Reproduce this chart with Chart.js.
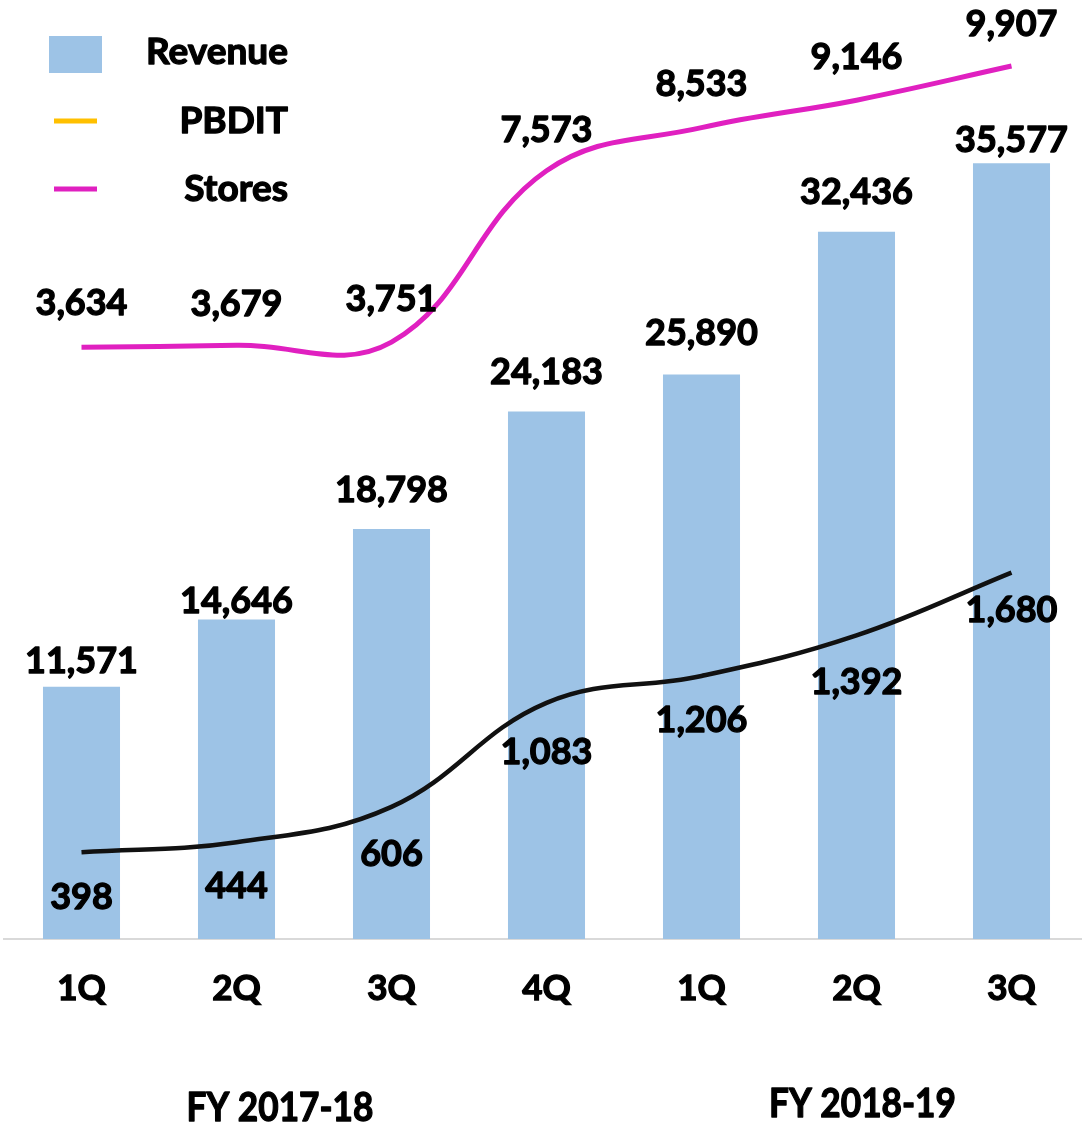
<!DOCTYPE html>
<html>
<head>
<meta charset="utf-8">
<script src="https://cdn.jsdelivr.net/npm/chart.js@4.4.1/dist/chart.umd.min.js"></script>
<style>
  html, body { margin: 0; padding: 0; overflow: hidden; background: #fff; }
</style>
</head>
<body>
<canvas id="chart" width="1092" height="1124"></canvas>
<script>
const quarters = ["1Q", "2Q", "3Q", "4Q", "1Q", "2Q", "3Q"];
const revenue = [11571, 14646, 18798, 24183, 25890, 32436, 35577];
const pbdit = [398, 444, 606, 1083, 1206, 1392, 1680];
const stores = [3634, 3679, 3751, 7573, 8533, 9146, 9907];
const fiscalYears = ["FY 2017-18", "FY 2018-19"];

const FONT = "Lato, 'Open Sans', sans-serif";
const W = "bold";
const fmt = (v) => v.toLocaleString("en-US");

// bold text with a thin stroke to look heavier
const heavyText = (ctx, txt, x, y) => {
  ctx.lineWidth = 1.3;
  ctx.strokeStyle = "#000";
  ctx.lineJoin = "round";
  ctx.strokeText(txt, x, y);
  ctx.fillText(txt, x, y);
};

// value labels next to each point / bar (vertical nudge per point)
const valueLabels = {
  id: "valueLabels",
  afterDatasetsDraw(chart) {
    const ctx = chart.ctx;
    ctx.save();
    ctx.font = `${W} 36px ${FONT}`;
    ctx.fillStyle = "#000";
    ctx.textAlign = "center";
    ctx.textBaseline = "middle";
    chart.data.datasets.forEach((ds, i) => {
      const meta = chart.getDatasetMeta(i);
      meta.data.forEach((el, j) => {
        heavyText(ctx, fmt(ds.data[j]), el.x, el.y + ds.labelOffsets[j]);
      });
    });
    ctx.restore();
  },
};

// legend in the top-left corner, text right aligned
const sideLegend = {
  id: "sideLegend",
  afterDraw(chart) {
    const ctx = chart.ctx;
    ctx.save();
    ctx.font = `${W} 37px ${FONT}`;
    ctx.textAlign = "right";
    ctx.textBaseline = "middle";
    const rows = [52, 121, 189];
    chart.data.datasets.forEach((ds, i) => {
      const y = rows[i];
      if (ds.type === "bar") {
        ctx.fillStyle = ds.backgroundColor;
        ctx.fillRect(49, y - 16, 53, 37);
      } else {
        ctx.strokeStyle = ds.legendColor || ds.borderColor;
        ctx.lineWidth = 5;
        ctx.beginPath();
        ctx.moveTo(54, y);
        ctx.lineTo(97, y);
        ctx.stroke();
      }
      ctx.fillStyle = "#000";
      heavyText(ctx, ds.label, 288, y);
    });
    ctx.restore();
  },
};

// fiscal year captions under the quarter ticks (slightly condensed)
const yearCaptions = {
  id: "yearCaptions",
  afterDraw(chart) {
    const ctx = chart.ctx;
    const x = chart.scales.x;
    const spots = [
      { from: 0, to: 3, y: 1108, shift: -34 },
      { from: 4, to: 6, y: 1104, shift: 6 },
    ];
    ctx.save();
    ctx.font = `${W} 40px ${FONT}`;
    ctx.fillStyle = "#000";
    ctx.textAlign = "center";
    ctx.textBaseline = "middle";
    fiscalYears.forEach((txt, i) => {
      const s = spots[i];
      const cx = (x.getPixelForValue(s.from) + x.getPixelForValue(s.to)) / 2 + s.shift;
      ctx.save();
      ctx.translate(cx, s.y);
      ctx.scale(0.88, 1);
      heavyText(ctx, txt, 0, 0);
      ctx.restore();
    });
    ctx.restore();
  },
};

new Chart(document.getElementById("chart"), {
  data: {
    labels: quarters,
    datasets: [
      {
        type: "bar",
        label: "Revenue",
        data: revenue,
        backgroundColor: "#9DC3E6",
        yAxisID: "yRev",
        order: 3,
        labelOffsets: [-25, -18, -39, -39, -41, -39, -23],
        barPercentage: 0.497,
        categoryPercentage: 1,
      },
      {
        type: "line",
        label: "PBDIT",
        data: pbdit,
        borderColor: "#111111",
        legendColor: "#FFC000",
        borderWidth: 4.5,
        pointRadius: 0,
        tension: 0.4,
        yAxisID: "yPbdit",
        order: 2,
        labelOffsets: [45, 44, 48, 50, 44, 47, 38],
      },
      {
        type: "line",
        label: "Stores",
        data: stores,
        borderColor: "#E020C0",
        borderWidth: 5,
        pointRadius: 0,
        tension: 0.4,
        yAxisID: "yStores",
        order: 1,
        labelOffsets: [-44, -41, -43, -40, -43, -43, -42],
      },
    ],
  },
  options: {
    responsive: false,
    animation: false,
    layout: { padding: { top: 30, left: 4, right: 3, bottom: 85 } },
    plugins: {
      legend: { display: false },
      tooltip: { enabled: false },
    },
    scales: {
      x: {
        grid: { display: false, drawTicks: false },
        border: { color: "#d9d9d9", width: 2 },
        ticks: {
          color: "#000",
          padding: 29,
          textStrokeColor: "#000",
          textStrokeWidth: 1.3,
          font: { family: FONT, size: 35, weight: W, lineHeight: 1.2 },
        },
      },
      yRev: { display: false, min: 0, max: 41682 },
      yPbdit: { display: false, min: 0, max: 4168 },
      yStores: { display: false, min: -9559, max: 10711 },
    },
  },
  plugins: [valueLabels, sideLegend, yearCaptions],
});
</script>
</body>
</html>
